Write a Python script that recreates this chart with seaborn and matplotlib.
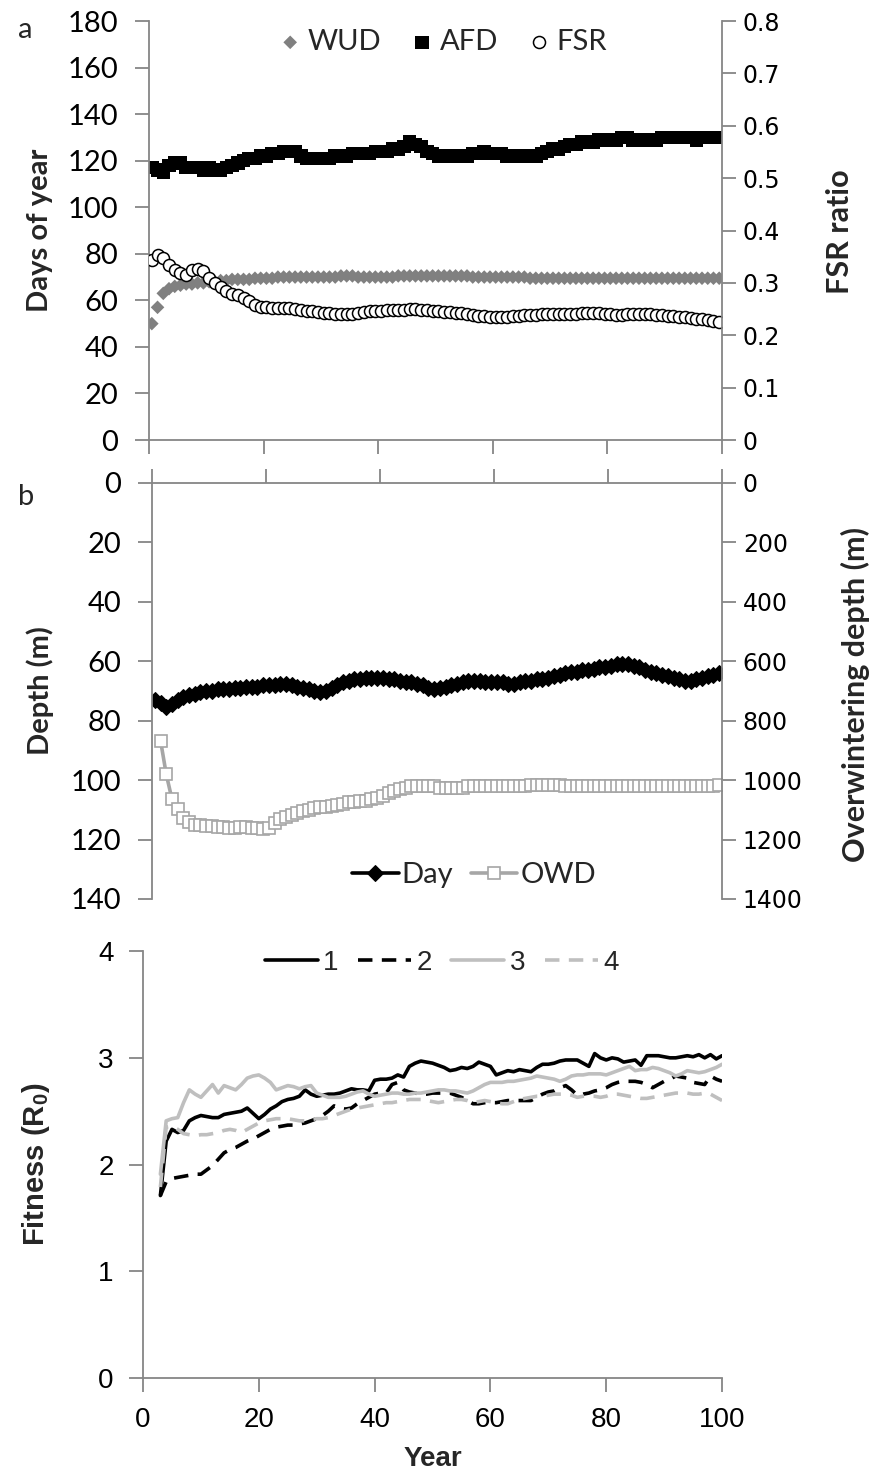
import numpy as np
import matplotlib as mpl
mpl.use("Agg")
import matplotlib.pyplot as plt
import seaborn as sns

sns.set_theme(style="ticks")
plt.rcParams['font.family'] = ['Lato', 'DejaVu Sans']
plt.rcParams['mathtext.fontset'] = 'custom'
plt.rcParams['mathtext.bf'] = 'Liberation Sans:bold'
plt.rcParams['mathtext.rm'] = 'Liberation Sans'

GRAY = '#868686'

# ---- panel a: timing (days of year) and FSR ratio ----
years = np.arange(1, 101)
wud = [50, 57, 63, 65, 66, 66.5, 67, 67, 67.5, 67.5,
       68, 68, 68.5, 68.5, 69, 69, 69, 69, 69.5, 69.5,
       69.5, 69.5, 70, 70, 70, 70, 70, 70, 70, 70,
       70, 70, 70, 70.5, 70.5, 70.5, 70, 70, 70, 70,
       70, 70, 70, 70.5, 70.5, 70.5, 70.5, 70.5, 70.5, 70.5,
       70.5, 70.5, 70.5, 70.5, 70.5, 70.5, 70, 70, 70, 70,
       70, 70, 70, 70, 70, 70, 69.5, 69.5, 69.5, 69.5,
       69.5, 69.5, 69.5, 69.5, 69.5, 69.5, 69.5, 69.5, 69.5, 69.5,
       69.5, 69.5, 69.5, 69.5, 69.5, 69.5, 69.5, 69.5, 69.5, 69.5,
       69.5, 69.5, 69.5, 69.5, 69.5, 69.5, 69.5, 69.5, 69.5, 69.5]
afd = [117, 116, 115, 118, 119, 119, 117, 117, 117, 116,
       117, 116, 116, 117, 118, 119, 120, 121, 121, 122,
       122, 123, 123, 124, 124, 124, 122, 121, 121, 121,
       121, 121, 122, 122, 122, 123, 123, 123, 123, 124,
       124, 124, 125, 125, 126, 128, 127, 126, 124, 123,
       122, 122, 122, 122, 122, 122, 123, 123, 124, 123,
       123, 123, 122, 122, 122, 122, 122, 122, 123, 124,
       125, 125, 126, 127, 127, 128, 128, 128, 129, 129,
       129, 129, 130, 130, 129, 129, 129, 129, 129, 130,
       130, 130, 130, 130, 130, 129, 130, 130, 130, 130]
fsr = [.344, .353, .347, .335, .325, .318, .315, .325, .327, .323,
       .310, .300, .293, .285, .279, .277, .272, .266, .258, .254,
       .254, .253, .253, .252, .252, .250, .249, .247, .246, .245,
       .243, .242, .241, .240, .240, .241, .243, .245, .246, .247,
       .247, .248, .248, .248, .249, .250, .250, .249, .248, .247,
       .246, .245, .244, .243, .242, .240, .238, .237, .236, .235,
       .234, .234, .235, .236, .237, .238, .239, .239, .240, .240,
       .241, .241, .241, .241, .241, .242, .242, .242, .242, .241,
       .240, .239, .239, .240, .240, .241, .241, .240, .239, .238,
       .237, .236, .235, .234, .233, .232, .231, .229, .227, .226]

# ---- panel b: day depth and overwintering depth ----
day_depth = [73, 74, 75.5, 74.5, 73, 72, 71.5, 71, 70.5, 70,
             70, 69.5, 69.5, 69.5, 69, 69, 68.5, 68.5, 68.5, 68,
             68, 68, 67.5, 67.5, 68, 68.5, 69, 69.5, 70, 70.5,
             70, 69, 68, 67, 66.5, 66, 66, 65.5, 65.5, 65.5,
             65.5, 66, 66, 66.5, 67, 67, 67.5, 68, 69, 69.5,
             69, 68.5, 68, 67.5, 67, 66.5, 66.5, 66.5, 67, 67,
             67, 67, 67.5, 67.5, 67, 66.5, 66.5, 66, 66, 65.5,
             65, 64.5, 64, 63.5, 63.5, 63, 63, 62.5, 62, 62,
             61.5, 61, 61, 61, 61.5, 62, 63, 63.5, 64, 64.5,
             65, 65.5, 66, 66.5, 66.5, 66, 65.5, 65, 64.5, 64]
owd_years = np.arange(2, 101)
owd = [867, 980, 1064, 1098, 1126, 1140, 1150, 1152, 1155,
       1155, 1158, 1158, 1160, 1160, 1158, 1158, 1160, 1162, 1165,
       1160, 1145, 1130, 1125, 1118, 1112, 1105, 1100, 1095, 1092,
       1090, 1088, 1085, 1080, 1075, 1075, 1070, 1070, 1065, 1060,
       1055, 1045, 1035, 1030, 1025, 1020, 1020, 1020, 1020, 1020,
       1025, 1025, 1025, 1025, 1025, 1020, 1020, 1020, 1020, 1020,
       1020, 1020, 1020, 1020, 1020, 1020, 1015, 1015, 1015, 1015,
       1015, 1015, 1020, 1020, 1020, 1020, 1020, 1020, 1020, 1020,
       1020, 1020, 1020, 1020, 1020, 1020, 1020, 1020, 1020, 1020,
       1020, 1020, 1020, 1020, 1020, 1020, 1020, 1020, 1020, 1015]

# ---- panel c: fitness of four runs ----
fit_years = np.arange(3, 101)
fit1 = [1.71, 2.22, 2.33, 2.30, 2.32, 2.41, 2.44, 2.46,
        2.45, 2.44, 2.44, 2.47, 2.48, 2.49, 2.50, 2.53, 2.48, 2.43,
        2.47, 2.52, 2.55, 2.59, 2.61, 2.62, 2.64, 2.70, 2.66, 2.64,
        2.65, 2.66, 2.66, 2.67, 2.69, 2.71, 2.70, 2.70, 2.69, 2.79,
        2.80, 2.80, 2.81, 2.84, 2.82, 2.92, 2.95, 2.97, 2.96, 2.95,
        2.93, 2.91, 2.88, 2.89, 2.91, 2.90, 2.92, 2.96, 2.94, 2.92,
        2.84, 2.86, 2.88, 2.87, 2.89, 2.88, 2.87, 2.91, 2.94, 2.94,
        2.95, 2.97, 2.98, 2.98, 2.98, 2.95, 2.92, 3.04, 3.00, 2.98,
        3.00, 2.99, 2.96, 2.97, 2.98, 2.93, 3.02, 3.02, 3.02, 3.01,
        3.00, 3.00, 3.01, 3.02, 3.01, 3.03, 3.00, 3.03, 2.99, 3.02]
fit2 = [1.71, 1.84, 1.87, 1.88, 1.89, 1.90, 1.91, 1.91,
        1.95, 1.99, 2.05, 2.11, 2.14, 2.16, 2.19, 2.22, 2.24, 2.27,
        2.30, 2.33, 2.35, 2.36, 2.37, 2.37, 2.38, 2.39, 2.41, 2.43,
        2.46, 2.50, 2.55, 2.53, 2.52, 2.53, 2.57, 2.60, 2.63, 2.66,
        2.67, 2.67, 2.75, 2.77, 2.70, 2.68, 2.67, 2.66, 2.66, 2.67,
        2.67, 2.67, 2.67, 2.65, 2.63, 2.60, 2.57, 2.57, 2.58, 2.58,
        2.58, 2.59, 2.60, 2.60, 2.60, 2.60, 2.60, 2.63, 2.66, 2.68,
        2.69, 2.72, 2.74, 2.70, 2.65, 2.66, 2.67, 2.69, 2.70, 2.72,
        2.75, 2.77, 2.78, 2.78, 2.78, 2.77, 2.75, 2.72, 2.75, 2.78,
        2.80, 2.83, 2.82, 2.81, 2.77, 2.76, 2.75, 2.83, 2.80, 2.78]
fit3 = [1.91, 2.41, 2.43, 2.44, 2.58, 2.70, 2.66, 2.63,
        2.69, 2.75, 2.67, 2.74, 2.72, 2.70, 2.75, 2.81, 2.83, 2.84,
        2.81, 2.77, 2.70, 2.72, 2.74, 2.73, 2.71, 2.73, 2.74, 2.67,
        2.65, 2.63, 2.63, 2.63, 2.64, 2.66, 2.68, 2.69, 2.66, 2.64,
        2.65, 2.66, 2.67, 2.67, 2.66, 2.66, 2.67, 2.67, 2.68, 2.69,
        2.70, 2.70, 2.69, 2.69, 2.68, 2.67, 2.69, 2.72, 2.75, 2.77,
        2.77, 2.77, 2.78, 2.78, 2.79, 2.80, 2.81, 2.83, 2.82, 2.81,
        2.80, 2.78, 2.80, 2.83, 2.84, 2.84, 2.85, 2.85, 2.85, 2.84,
        2.86, 2.88, 2.90, 2.92, 2.88, 2.89, 2.89, 2.91, 2.90, 2.88,
        2.86, 2.83, 2.85, 2.88, 2.87, 2.86, 2.87, 2.89, 2.91, 2.94]
fit4 = [1.79, 2.35, 2.36, 2.33, 2.29, 2.28, 2.27, 2.28,
        2.28, 2.29, 2.30, 2.32, 2.33, 2.32, 2.30, 2.33, 2.36, 2.39,
        2.41, 2.42, 2.43, 2.43, 2.43, 2.42, 2.41, 2.41, 2.42, 2.43,
        2.43, 2.44, 2.46, 2.48, 2.50, 2.52, 2.53, 2.54, 2.55, 2.56,
        2.57, 2.58, 2.58, 2.59, 2.60, 2.61, 2.61, 2.61, 2.60, 2.59,
        2.58, 2.59, 2.60, 2.61, 2.61, 2.60, 2.58, 2.59, 2.60, 2.59,
        2.58, 2.57, 2.57, 2.59, 2.61, 2.62, 2.63, 2.64, 2.64, 2.65,
        2.66, 2.66, 2.66, 2.65, 2.63, 2.64, 2.64, 2.64, 2.63, 2.64,
        2.66, 2.66, 2.65, 2.64, 2.63, 2.62, 2.62, 2.63, 2.64, 2.65,
        2.66, 2.67, 2.67, 2.67, 2.66, 2.66, 2.67, 2.66, 2.63, 2.60]

fsr_ticks = [0, 0.1, 0.2, 0.3, 0.4, 0.5, 0.6, 0.7, 0.8]
fsr_labels = ['0', '0.1', '0.2', '0.3', '0.4', '0.5', '0.6', '0.7', '0.8']
day_ticks = list(range(0, 181, 20))
depth_ticks = list(range(0, 141, 20))
owd_ticks = list(range(0, 1401, 200))
year_ticks = list(range(0, 101, 20))
fit_ticks = [0, 1, 2, 3, 4]

ARIAL = 'Liberation Sans'
RIGHT_FONT = 'DejaVu Sans'


def style_spines(ax, visible):
    for side, sp in ax.spines.items():
        sp.set_visible(side in visible)
        sp.set_color(GRAY)
        sp.set_linewidth(1.3)


fig = plt.figure(figsize=(8.71, 14.81), dpi=100)
ax_a = fig.add_axes([0.171, 0.7029, 0.658, 0.2829])
ax_b = fig.add_axes([0.1745, 0.393, 0.6544, 0.2809])
ax_c = fig.add_axes([0.1642, 0.0695, 0.6648, 0.2883])
tick_kw = dict(direction='out', length=10, width=1.3, color=GRAY, labelcolor='black')

# panel a
sns.scatterplot(x=years, y=wud, ax=ax_a, marker='D', color='#808080', s=48,
                edgecolor='none', label='WUD', legend=False)
sns.scatterplot(x=years, y=afd, ax=ax_a, marker='s', color='black', s=95,
                edgecolor='none', label='AFD', legend=False)
ax_ar = ax_a.twinx()
sns.scatterplot(x=years, y=fsr, ax=ax_ar, marker='o', color='white', s=75,
                edgecolor='black', linewidth=1.1, label='FSR', legend=False)
ax_a.set_xlim(0.5, 100.5)
ax_a.set_xticks(np.arange(0.5, 101, 20))
ax_a.set_xticklabels([])
ax_a.set_ylim(0, 180)
ax_a.set_yticks(day_ticks)
ax_a.set_yticklabels([str(v) for v in day_ticks], fontsize=21)
ax_ar.set_ylim(0, 0.8)
ax_ar.set_yticks(fsr_ticks)
ax_ar.set_yticklabels(fsr_labels, fontfamily=RIGHT_FONT, fontsize=17)
ax_a.tick_params(axis='both', pad=12, **tick_kw)
ax_ar.tick_params(axis='y', pad=5, **tick_kw)
style_spines(ax_a, ['left', 'bottom'])
style_spines(ax_ar, ['right'])
h1, l1 = ax_a.get_legend_handles_labels()
h2, l2 = ax_ar.get_legend_handles_labels()
ax_ar.legend(h1 + h2, l1 + l2, loc='center', bbox_to_anchor=(0.51, 0.95), ncol=3,
             frameon=False, fontsize=21, handletextpad=0.1, columnspacing=0.9,
             borderpad=0, handlelength=1.0)

# panel b
sns.lineplot(x=years, y=day_depth, ax=ax_b, color='black', linewidth=2.6,
             marker='D', markersize=8, markeredgecolor='black', label='Day', legend=False)
ax_br = ax_b.twinx()
sns.lineplot(x=owd_years, y=owd, ax=ax_br, color='#a6a6a6', linewidth=2.6,
             marker='s', markersize=8, markerfacecolor='white', markeredgecolor='#a6a6a6',
             markeredgewidth=1.2, label='OWD', legend=False)
ax_b.set_xlim(0.5, 100.5)
ax_b.xaxis.tick_top()
ax_b.set_xticks(np.arange(0.5, 101, 20))
ax_b.set_xticklabels([])
ax_b.set_ylim(140, 0)
ax_b.set_yticks(depth_ticks)
ax_b.set_yticklabels([str(v) for v in depth_ticks], fontsize=21)
ax_br.set_ylim(1400, 0)
ax_br.set_yticks(owd_ticks)
ax_br.set_yticklabels([str(v) for v in owd_ticks], fontfamily=RIGHT_FONT, fontsize=17)
ax_b.tick_params(axis='both', pad=12, **tick_kw)
ax_br.tick_params(axis='y', pad=5, **tick_kw)
style_spines(ax_b, ['left', 'top'])
style_spines(ax_br, ['right'])
h1, l1 = ax_b.get_legend_handles_labels()
h2, l2 = ax_br.get_legend_handles_labels()
ax_br.legend(h1 + h2, l1 + l2, loc='center', bbox_to_anchor=(0.565, 0.058), ncol=2,
             frameon=False, fontsize=21, handletextpad=0.1, columnspacing=0.6,
             borderpad=0, handlelength=1.6)

# panel c
fit_styles = [('1', fit1, 'black', '-'), ('2', fit2, 'black', (0, (4, 2.6))),
              ('3', fit3, '#bfbfbf', '-'), ('4', fit4, '#bfbfbf', (0, (4, 2.6)))]
for name, vals, col, ls in fit_styles:
    sns.lineplot(x=fit_years, y=vals, ax=ax_c, color=col, linewidth=2.6,
                 linestyle=ls, label=name, legend=False)
ax_c.set_xlim(0, 100)
ax_c.set_xticks(year_ticks)
ax_c.set_xticklabels([str(v) for v in year_ticks], fontfamily=ARIAL, fontsize=20)
ax_c.set_ylim(0, 4)
ax_c.set_yticks(fit_ticks)
ax_c.set_yticklabels([str(v) for v in fit_ticks], fontfamily=ARIAL, fontsize=20)
ax_c.tick_params(axis='both', pad=11, **tick_kw)
style_spines(ax_c, ['left', 'bottom'])
ax_c.set_xlabel('Year', fontfamily=ARIAL, fontsize=20, fontweight='bold', labelpad=9)
ax_c.set_ylabel('')
ax_c.legend(loc='center', bbox_to_anchor=(0.516, 0.972), ncol=4, frameon=False,
            prop={'family': ARIAL, 'size': 20}, handletextpad=0.2,
            columnspacing=0.7, borderpad=0, handlelength=1.9)

# axis titles and panel letters
fig.text(40 / 871, 1 - 230 / 1481, 'Days of year', rotation=90, ha='center', va='center',
         fontsize=21, fontweight='bold')
fig.text(840 / 871, 1 - 232 / 1481, 'FSR ratio', rotation=90, ha='center', va='center',
         fontsize=22, fontweight='bold')
fig.text(40 / 871, 1 - 691 / 1481, 'Depth (m)', rotation=90, ha='center', va='center',
         fontsize=21, fontweight='bold')
fig.text(855 / 871, 1 - 695 / 1481, 'Overwintering depth (m)', rotation=90, ha='center',
         va='center', fontsize=22, fontweight='bold')
fig.text(36 / 871, 1 - 1164 / 1481, r'Fitness (R$_\mathbf{0}$)', rotation=90, ha='center',
         va='center', fontsize=21, fontweight='bold', fontfamily=ARIAL)
fig.text(18 / 871, 1 - 30 / 1481, 'a', ha='left', va='center', fontsize=21)
fig.text(18 / 871, 1 - 497 / 1481, 'b', ha='left', va='center', fontsize=21)

fig.savefig('out.png', dpi=100)
